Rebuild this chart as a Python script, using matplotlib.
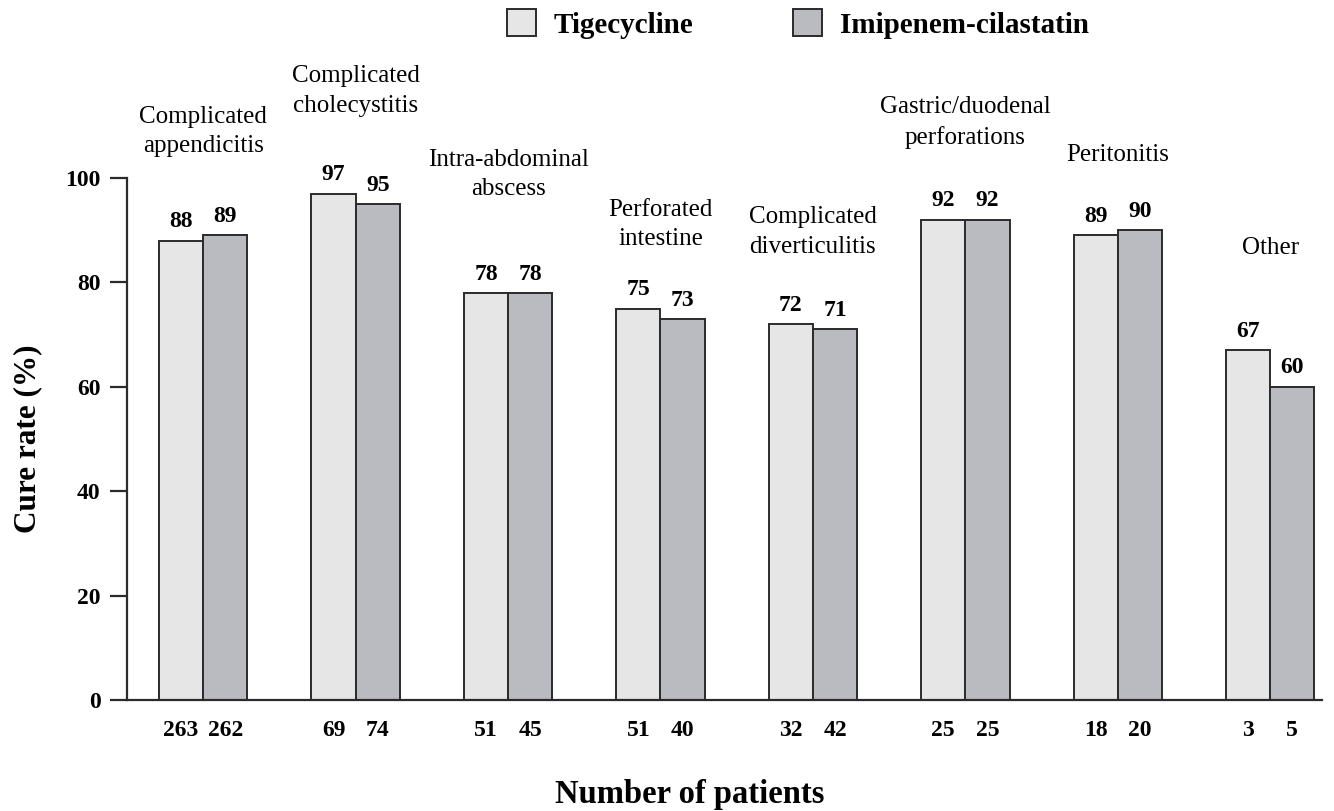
import matplotlib
matplotlib.use("Agg")
import matplotlib.pyplot as plt
from matplotlib.patches import Patch
import numpy as np

# data
categories = ["Complicated\nappendicitis", "Complicated\ncholecystitis", "Intra-abdominal\nabscess",
              "Perforated\nintestine", "Complicated\ndiverticulitis", "Gastric/duodenal\nperforations",
              "Peritonitis", "Other"]
tige_rate = [88, 97, 78, 75, 72, 92, 89, 67]
imi_rate = [89, 95, 78, 73, 71, 92, 90, 60]
tige_n = [263, 69, 51, 51, 32, 25, 18, 3]
imi_n = [262, 74, 45, 40, 42, 25, 20, 5]
# height (in cure-rate units) where each category label is centred
label_y = [108.9, 116.7, 100.7, 91.1, 89.6, 110.7, 104.4, 86.6]

light = "#e6e6e6"
dark = "#b9bbc0"
edge = "#2b2b2b"

plt.rcParams["font.family"] = ["Liberation Serif", "DejaVu Serif"]

fig = plt.figure(figsize=(13.34, 8.11), dpi=100)
ax = fig.add_axes([127 / 1334, 1 - 700 / 811, (1322 - 127) / 1334, (700 - 178) / 811])

x = np.arange(len(categories))
w = 0.29
ax.bar(x - w / 2, tige_rate, w, color=light, edgecolor=edge, linewidth=1.4)
ax.bar(x + w / 2, imi_rate, w, color=dark, edgecolor=edge, linewidth=1.4)

for i in range(len(categories)):
    ax.annotate(str(tige_rate[i]), (x[i] - w / 2, tige_rate[i]), xytext=(0, 6),
                textcoords="offset points", ha="center", va="bottom",
                fontsize=17, fontweight="bold")
    ax.annotate(str(imi_rate[i]), (x[i] + w / 2, imi_rate[i]), xytext=(0, 6),
                textcoords="offset points", ha="center", va="bottom",
                fontsize=17, fontweight="bold")
    ax.annotate(str(tige_n[i]), (x[i] - w / 2, 0), xytext=(0, -22),
                textcoords="offset points", ha="center", va="center",
                fontsize=17, fontweight="bold")
    ax.annotate(str(imi_n[i]), (x[i] + w / 2, 0), xytext=(0, -22),
                textcoords="offset points", ha="center", va="center",
                fontsize=17, fontweight="bold")
    ax.text(x[i], label_y[i], categories[i], ha="center", va="center",
            fontsize=18, linespacing=1.45, clip_on=False)

ax.set_xlim(-0.5, 7.34)
ax.set_ylim(0, 100)
ax.set_yticks(range(0, 101, 20))
ax.set_xticks([])
ax.spines["top"].set_visible(False)
ax.spines["right"].set_visible(False)
ax.spines["left"].set_linewidth(1.6)
ax.spines["bottom"].set_linewidth(1.6)
ax.spines["left"].set_color(edge)
ax.spines["bottom"].set_color(edge)
ax.tick_params(axis="y", length=12, width=1.6, color=edge, labelsize=17, pad=7)
for t in ax.get_yticklabels():
    t.set_fontweight("bold")

ax.set_ylabel("Cure rate (%)", fontsize=22.5, fontweight="bold")
ax.yaxis.set_label_coords(-0.071, 0.5)
fig.text(690 / 1334, 1 - 795 / 811, "Number of patients",
         ha="center", va="center", fontsize=23.5, fontweight="bold")

handles = [Patch(facecolor=light, edgecolor=edge, linewidth=1.4, label="Tigecycline"),
           Patch(facecolor=dark, edgecolor=edge, linewidth=1.4, label="Imipenem-cilastatin")]
leg = fig.legend(handles=handles, loc="center", bbox_to_anchor=(798 / 1334, 1 - 24 / 811),
                 ncol=2, frameon=False, handlelength=1.0, handleheight=1.0,
                 columnspacing=3.4, handletextpad=0.62, borderpad=0,
                 prop={"size": 21, "weight": "bold"})

fig.savefig("out.png", dpi=100)
